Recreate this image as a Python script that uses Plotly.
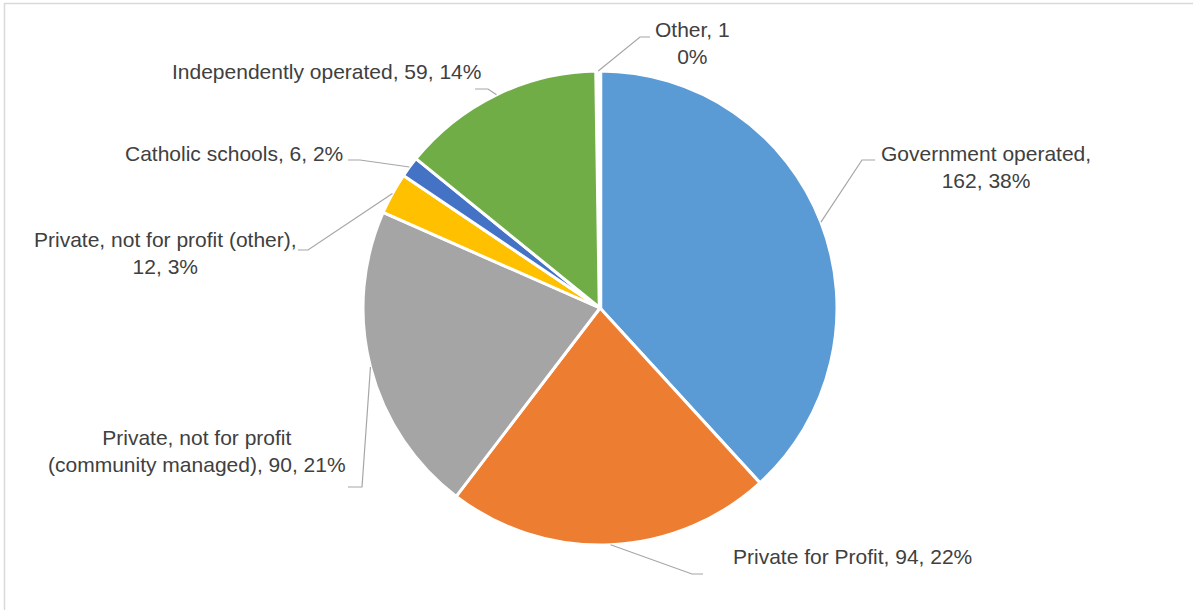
import math
import plotly.graph_objects as go

# Service providers by management type
categories = [
    "Government operated",
    "Private for Profit",
    "Private, not for profit (community managed)",
    "Private, not for profit (other)",
    "Catholic schools",
    "Independently operated",
    "Other",
]
counts = [162, 94, 90, 12, 6, 59, 1]
pct_labels = ["38%", "22%", "21%", "3%", "2%", "14%", "0%"]

# Label text layout (line breaks as wrapped in the chart)
label_text = [
    "Government operated,<br>{n}, {p}",
    "Private for Profit, {n}, {p}",
    "Private, not for profit<br>(community managed), {n}, {p}",
    "Private, not for profit (other),<br>{n}, {p}",
    "Catholic schools, {n}, {p}",
    "Independently operated, {n}, {p}",
    "Other, {n}<br>{p}",
]

colors = ["#5B9BD5", "#ED7D31", "#A5A5A5", "#FFC000", "#4472C4", "#70AD47", "#264478"]
edge_widths = [3, 3, 3, 3, 3, 3, 4.5]

W, H = 1193, 610
CX, CY, R = 600, 308, 237  # pie centre and radius in pixels

# label centre (px) and leader-line elbow / end (px)
label_pos = [(986, 167), (852, 556), (197, 451), (165, 253), (234, 153), (326, 71), (692, 43)]
elbows = [(862, 160), (692, 574), (362, 487), (308, 250), (360, 160), (488, 89), (640, 37)]
ends = [(875, 160), (703, 574), (348, 487), (298, 250), (348, 160), (475, 89), (650, 37)]


def px(x, y):
    return x / W, 1 - y / H


fig = go.Figure(
    go.Pie(
        labels=categories,
        values=counts,
        sort=False,
        direction="clockwise",
        rotation=0,
        marker=dict(colors=colors, line=dict(color="#FFFFFF", width=edge_widths)),
        textinfo="none",
        hoverinfo="label+value+percent",
        domain=dict(
            x=[(CX - R) / W, (CX + R) / W],
            y=[1 - (CY + R) / H, 1 - (CY - R) / H],
        ),
        showlegend=False,
    )
)

total = sum(counts)
shapes = []
annotations = []
cum = 0
for i, v in enumerate(counts):
    mid = (cum + v / 2) / total * 2 * math.pi
    cum += v
    sx = CX + R * math.sin(mid)
    sy = CY - R * math.cos(mid)
    p0 = px(sx, sy)
    p1 = px(*elbows[i])
    p2 = px(*ends[i])
    shapes.append(
        dict(
            type="path",
            xref="paper",
            yref="paper",
            path=f"M {p0[0]},{p0[1]} L {p1[0]},{p1[1]} L {p2[0]},{p2[1]}",
            line=dict(color="#A6A6A6", width=1.2),
        )
    )
    lx, ly = px(*label_pos[i])
    annotations.append(
        dict(
            x=lx,
            y=ly,
            xref="paper",
            yref="paper",
            text=label_text[i].format(n=v, p=pct_labels[i]),
            showarrow=False,
            xanchor="center",
            yanchor="middle",
            align="center",
            font=dict(family="Liberation Sans, Arial, sans-serif", size=21, color="#404040"),
        )
    )

# chart area border
shapes.append(
    dict(
        type="rect",
        xref="paper",
        yref="paper",
        x0=4.5 / W,
        y0=-0.05,
        x1=1.05,
        y1=1 - 3.5 / H,
        line=dict(color="#D9D9D9", width=1.5),
        layer="below",
    )
)

fig.update_layout(
    width=W,
    height=H,
    margin=dict(l=0, r=0, t=0, b=0),
    paper_bgcolor="#FFFFFF",
    plot_bgcolor="#FFFFFF",
    shapes=shapes,
    annotations=annotations,
)

fig.write_html("out.html")
